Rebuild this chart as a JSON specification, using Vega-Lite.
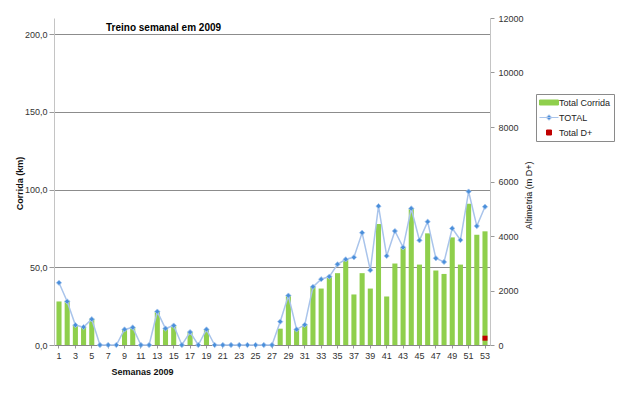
{
  "$schema": "https://vega.github.io/schema/vega-lite/v6.json",
  "width": 436,
  "height": 327,
  "autosize": {"type": "none"},
  "padding": {"left": 54, "top": 18, "right": 150, "bottom": 50},
  "background": "white",
  "config": {
    "font": "Liberation Sans",
    "view": {"stroke": null},
    "axis": {"labelFont": "Liberation Sans", "titleFont": "Liberation Sans", "labelFontSize": 9, "labelColor": "#333333", "titleColor": "#111111"},
    "legend": {
      "labelFont": "Liberation Sans",
      "orient": "none",
      "legendX": 482,
      "legendY": 76,
      "padding": 3,
      "symbolSize": 100,
      "symbolOffset": 4.5,
      "symbolStrokeWidth": 1,
      "labelFontSize": 9,
      "labelColor": "#222222",
      "labelOffset": 4.5,
      "rowPadding": 4,
      "strokeColor": "#8a8a8a"
    }
  },
  "title": {
    "text": "Treino semanal em 2009",
    "anchor": "start",
    "frame": "group",
    "font": "Liberation Sans",
    "fontSize": 10,
    "fontWeight": "bold",
    "color": "#000000",
    "offset": -27,
    "baseline": "alphabetic",
    "dx": 52
  },
  "data": {
    "values": [
      {"week": 1, "corrida": 28, "total": 40},
      {"week": 2, "corrida": 28.5, "total": 28},
      {"week": 3, "corrida": 12.8, "total": 12.8},
      {"week": 4, "corrida": 11.7, "total": 11.5},
      {"week": 5, "corrida": 17, "total": 16.6},
      {"week": 6, "corrida": 0, "total": 0},
      {"week": 7, "corrida": 0, "total": 0},
      {"week": 8, "corrida": 0, "total": 0},
      {"week": 9, "corrida": 10, "total": 10},
      {"week": 10, "corrida": 11.5, "total": 11.3},
      {"week": 11, "corrida": 0, "total": 0},
      {"week": 12, "corrida": 0, "total": 0},
      {"week": 13, "corrida": 21.7, "total": 21.5},
      {"week": 14, "corrida": 10.8, "total": 10.6},
      {"week": 15, "corrida": 12.5, "total": 12.5},
      {"week": 16, "corrida": 0, "total": 0},
      {"week": 17, "corrida": 8.5, "total": 8.3},
      {"week": 18, "corrida": 0, "total": 0},
      {"week": 19, "corrida": 10, "total": 10},
      {"week": 20, "corrida": 0, "total": 0},
      {"week": 21, "corrida": 0, "total": 0},
      {"week": 22, "corrida": 0, "total": 0},
      {"week": 23, "corrida": 0, "total": 0},
      {"week": 24, "corrida": 0, "total": 0},
      {"week": 25, "corrida": 0, "total": 0},
      {"week": 26, "corrida": 0, "total": 0},
      {"week": 27, "corrida": 0, "total": 0},
      {"week": 28, "corrida": 10.5, "total": 15},
      {"week": 29, "corrida": 32.1, "total": 31.8},
      {"week": 30, "corrida": 10, "total": 10},
      {"week": 31, "corrida": 13.2, "total": 13},
      {"week": 32, "corrida": 37.4, "total": 37.4},
      {"week": 33, "corrida": 36.3, "total": 42.3},
      {"week": 34, "corrida": 43.8, "total": 44},
      {"week": 35, "corrida": 46.2, "total": 51.9},
      {"week": 36, "corrida": 54.9, "total": 55.1},
      {"week": 37, "corrida": 32.5, "total": 56.4},
      {"week": 38, "corrida": 46.2, "total": 72.2},
      {"week": 39, "corrida": 36.3, "total": 48.1},
      {"week": 40, "corrida": 77.8, "total": 89.3},
      {"week": 41, "corrida": 31.2, "total": 57.3},
      {"week": 42, "corrida": 52.4, "total": 73.3},
      {"week": 43, "corrida": 62.6, "total": 62.8},
      {"week": 44, "corrida": 87.8, "total": 87.8},
      {"week": 45, "corrida": 51.7, "total": 67.3},
      {"week": 46, "corrida": 71.8, "total": 79.3},
      {"week": 47, "corrida": 47.9, "total": 55.8},
      {"week": 48, "corrida": 45.7, "total": 53.4},
      {"week": 49, "corrida": 69.2, "total": 75},
      {"week": 50, "corrida": 51.7, "total": 67.5},
      {"week": 51, "corrida": 90.8, "total": 98.7},
      {"week": 52, "corrida": 70.9, "total": 76.5},
      {"week": 53, "corrida": 73.1, "total": 88.9, "dplus": 250}
    ]
  },
  "encoding": {
    "x": {
      "field": "week",
      "type": "ordinal",
      "scale": {"paddingInner": 0.38, "paddingOuter": 0.3},
      "axis": {
        "values": [1,3,5,7,9,11,13,15,17,19,21,23,25,27,29,31,33,35,37,39,41,43,45,47,49,51,53],
        "labelAngle": 0,
        "labelPadding": 3,
        "tickSize": 3,
        "tickColor": "#999999",
        "domainColor": "#888888",
        "title": "Semanas 2009",
        "titleFontSize": 9,
        "titleFontWeight": "bold",
        "titleAnchor": "start",
        "titleAlign": "left",
        "titleX": 57,
        "titleY": 29,
        "titleBaseline": "alphabetic"
      }
    }
  },
  "layer": [
    {
      "layer": [
        {
          "mark": {"type": "bar"},
          "encoding": {
            "y": {
              "field": "corrida",
              "type": "quantitative",
              "title": "Corrida (km)",
              "scale": {"domain": [0, 210.3], "nice": false},
              "axis": {
                "values": [0, 50, 100, 150, 200],
                "labelExpr": "replace(format(datum.value, '.1f'), '.', ',')",
                "grid": true,
                "gridColor": "#8c8c8c",
                "gridWidth": 1,
                "domainColor": "#c4c4c4",
                "tickColor": "#999999",
                "tickSize": 5,
                "labelPadding": 2,
                "titleFontSize": 9,
                "titleFontWeight": "bold",
                "titleAngle": -90,
                "titleX": -35,
                "titleY": 165,
                "titleAlign": "center",
                "titleBaseline": "middle"
              }
            },
            "color": {
              "datum": "Total Corrida",
              "type": "nominal",
              "scale": {"domain": ["Total Corrida", "TOTAL", "Total D+"], "range": ["#8FCF4C", "#4A8FDA", "#C00000"]},
              "legend": {"title": null}
            }
          }
        },
        {
          "mark": {"type": "line", "strokeWidth": 1.5},
          "encoding": {
            "y": {"field": "total", "type": "quantitative", "title": "Corrida (km)"},
            "stroke": {
              "datum": "TOTAL",
              "type": "nominal",
              "scale": {"domain": ["Total Corrida", "TOTAL", "Total D+"], "range": ["#8FCF4C", "#A9C4EB", "#C00000"]},
              "legend": {"title": null}
            }
          }
        },
        {
          "mark": {"type": "point", "shape": "diamond", "filled": true, "size": 28, "fill": "#4A8FDA", "stroke": "#A9C8F0", "strokeWidth": 0.8, "opacity": 1},
          "encoding": {
            "y": {"field": "total", "type": "quantitative", "title": "Corrida (km)"}
          }
        }
      ]
    },
    {
      "mark": {"type": "point", "filled": true, "size": 100, "opacity": 1},
      "encoding": {
        "y": {
          "field": "dplus",
          "type": "quantitative",
          "title": "Altimetria (m D+)",
          "scale": {"domain": [0, 12000], "nice": false},
          "axis": {
            "orient": "right",
            "values": [0, 2000, 4000, 6000, 8000, 10000, 12000],
            "format": "d",
            "grid": false,
            "domainColor": "#c4c4c4",
            "tickColor": "#999999",
            "tickSize": 4,
            "labelPadding": 4,
            "titleFontSize": 9,
            "titleFontWeight": "normal",
            "titleAngle": -90,
            "titleX": 38,
            "titleY": 177,
            "titleAlign": "center",
            "titleBaseline": "middle"
          }
        },
        "color": {"datum": "Total D+", "type": "nominal", "legend": {"title": null}},
        "shape": {
          "datum": "Total D+",
          "type": "nominal",
          "scale": {"domain": ["Total Corrida", "TOTAL", "Total D+"], "range": ["M-1.9,-0.5H1.9V0.5H-1.9Z", "M-1.9,0H1.9M0,-0.55L0.55,0L0,0.55L-0.55,0Z", "M-0.5,-0.5H0.5V0.5H-0.5Z"]},
          "legend": {"title": null}
        }
      }
    }
  ],
  "resolve": {"scale": {"y": "independent"}}
}
